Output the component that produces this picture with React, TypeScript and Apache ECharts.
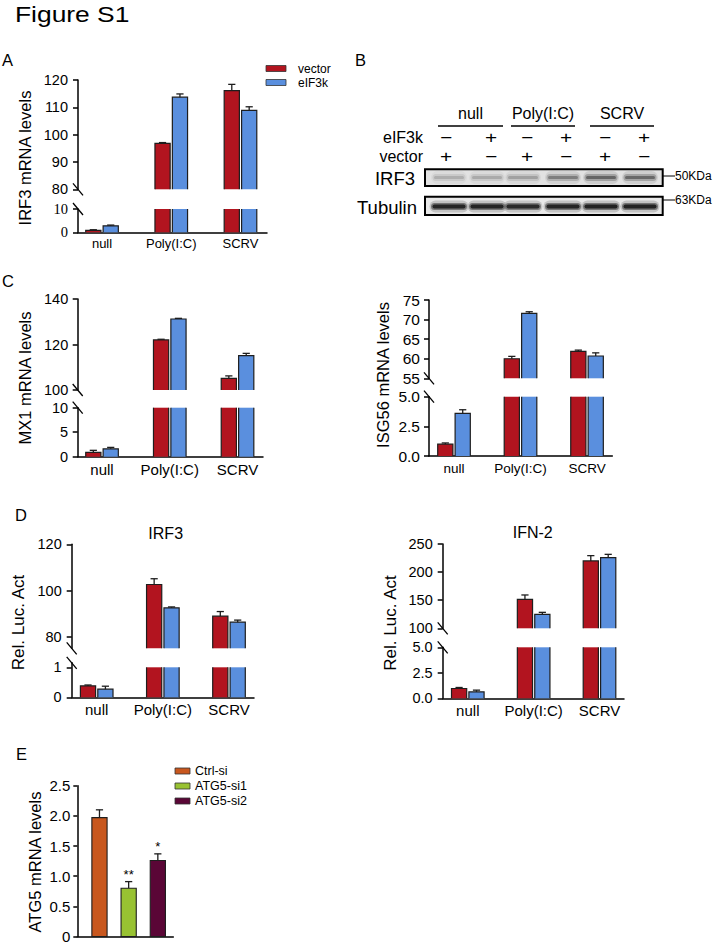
import React, { useEffect, useRef } from 'react';
import * as echarts from 'echarts';

// ---------------- data ----------------
const categories = ['null', 'Poly(I:C)', 'SCRV'];
const groupNames = ['vector', 'eIF3k'];

// A: IRF3 mRNA levels
const irf3mrnaVector = [0.8, 96.8, 116.1];
const irf3mrnaVectorErr = [0.3, 0.3, 2.3];
const irf3mrnaEif3k = [2.8, 113.7, 108.9];
const irf3mrnaEif3kErr = [0.3, 1.2, 1.3];

// C: MX1 mRNA levels
const mx1Vector = [0.9, 122.0, 105.1];
const mx1VectorErr = [0.4, 0.3, 1.1];
const mx1Eif3k = [1.6, 131.2, 115.1];
const mx1Eif3kErr = [0.3, 0.3, 1.0];

// C: ISG56 mRNA levels
const isg56Vector = [1.0, 60.0, 61.9];
const isg56VectorErr = [0.1, 0.6, 0.3];
const isg56Eif3k = [3.6, 71.6, 60.7];
const isg56Eif3kErr = [0.3, 0.4, 0.8];

// D: IRF3 Rel. Luc. Act
const lucIrf3Vector = [0.38, 102.6, 88.9];
const lucIrf3VectorErr = [0.03, 2.5, 2.0];
const lucIrf3Eif3k = [0.27, 92.5, 86.3];
const lucIrf3Eif3kErr = [0.1, 0.4, 0.9];

// D: IFN-2 Rel. Luc. Act
const lucIfnVector = [0.96, 151.6, 219.8];
const lucIfnVectorErr = [0.1, 7.7, 9.5];
const lucIfnEif3k = [0.63, 124.9, 225.6];
const lucIfnEif3kErr = [0.17, 3.5, 6.0];

// E: ATG5 mRNA levels
const atg5Groups = ['Ctrl-si', 'ATG5-si1', 'ATG5-si2'];
const atg5Values = [1.97, 0.8, 1.26];
const atg5Errs = [0.13, 0.11, 0.11];
const atg5Marks = ['', '**', '*'];

// tick values
const irf3UpperTicks = [80, 90, 100, 110, 120];
const irf3LowerTicks = [0, 10];
const mx1UpperTicks = [100, 120, 140];
const mx1LowerTicks = [0, 5, 10];
const isg56UpperTicks = [55, 60, 65, 70, 75];
const isg56LowerTicks = [0, 2.5, 5];
const lucIrf3UpperTicks = [80, 100, 120];
const lucIrf3LowerTicks = [0, 1];
const lucIfnUpperTicks = [100, 150, 200, 250];
const lucIfnLowerTicks = [0, 2.5, 5];
const atg5Ticks = [0, 0.5, 1, 1.5, 2, 2.5];

// B: western blot
const blotGroups = ['null', 'Poly(I:C)', 'SCRV'];
const blotEif3k = ['−', '+', '−', '+', '−', '+'];
const blotVector = ['+', '−', '+', '−', '+', '−'];
const irf3BandIntensity = [0.3, 0.32, 0.38, 0.62, 0.82, 0.8];
const tubulinBandIntensity = [0.95, 0.95, 0.9, 0.95, 0.97, 0.97];
const blotMarkers = ['50KDa', '63KDa'];

// ---------------- styles ----------------
const FONT = '"Liberation Sans", Arial, Helvetica, sans-serif';
const SERIF = '"Liberation Serif", "Times New Roman", serif';
const RED = '#B2141F';
const BLUE = '#5A8FDE';
const EDGE = '#1e1e1e';
const E_COLORS = ['#C8571E', '#98C232', '#5A0636'];

type Seg = {
  top: number; bottom: number; min: number; max: number; ticks: number[];
  clip?: number; fmt?: (v: number) => string; family?: string;
};
type Bars = { values: number[]; errs: number[]; color: string; offset: number };
type Panel = {
  left: number; right: number; xMin: number; xMax: number;
  upper: Seg; lower: Seg; bars: Bars[];
  tickSize: number; tickMargin: number; xLabelSize: number; xLabelMargin: number;
};

const HW = 7.6; // bar half width (px)
const CAP = 3.6; // error cap half width

function txt(text: string, x: number, y: number, size: number, opts: any = {}) {
  const align = opts.align || 'left';
  const va = opts.va || 'middle';
  return {
    type: 'text', x, y, rotation: opts.rotation || 0, scaleX: opts.scaleX || 1, silent: true,
    style: {
      text, fontSize: size, fontFamily: opts.family || FONT, fill: opts.fill || '#000',
      align, verticalAlign: va, textAlign: align, textVerticalAlign: va,
    },
  };
}

function yAxisOf(gridIndex: number, s: Seg, p: Panel) {
  return {
    type: 'value', gridIndex, min: s.min, max: s.max,
    axisLine: { show: true, onZero: false, lineStyle: { color: '#000', width: 1.5 } },
    axisTick: { show: true, length: 5, customValues: s.ticks, lineStyle: { color: '#000', width: 1.5 } },
    axisLabel: {
      customValues: s.ticks, fontSize: p.tickSize, fontFamily: s.family || FONT, color: '#000',
      margin: p.tickMargin, formatter: (v: number) => (s.fmt ? s.fmt(v) : String(v)),
    },
    splitLine: { show: false },
  };
}

function barRender(b: Bars, seg: Seg, isUpper: boolean) {
  return (params: any, api: any) => {
    const i = api.value(0);
    const v = api.value(1);
    const e = api.value(2);
    const children: any[] = [];
    const base = api.coord([i, seg.min]);
    const cx = base[0] + b.offset;
    const x0 = cx - HW;
    const x1 = cx + HW;
    let showErr = false;
    let topY = 0;
    if (isUpper) {
      if (v <= seg.min) return { type: 'group', children: [] };
      topY = api.coord([i, v])[1];
      children.push({ type: 'rect', shape: { x: x0, y: topY, width: 2 * HW, height: base[1] - topY }, style: { fill: b.color } });
      children.push({
        type: 'polyline',
        shape: { points: [[x0, base[1]], [x0, topY], [x1, topY], [x1, base[1]]] },
        style: { stroke: EDGE, lineWidth: 1.2, fill: null },
      });
      showErr = true;
    } else {
      const clip = seg.clip !== undefined ? seg.clip : seg.max;
      const tv = Math.min(v, clip);
      topY = api.coord([i, tv])[1];
      children.push({ type: 'rect', shape: { x: x0, y: topY, width: 2 * HW, height: base[1] - topY }, style: { fill: b.color } });
      if (v <= clip) {
        children.push({
          type: 'polyline',
          shape: { points: [[x0, base[1]], [x0, topY], [x1, topY], [x1, base[1]]] },
          style: { stroke: EDGE, lineWidth: 1.2, fill: null },
        });
        showErr = true;
      } else {
        children.push({ type: 'line', shape: { x1: x0, y1: base[1], x2: x0, y2: topY }, style: { stroke: EDGE, lineWidth: 1.2 } });
        children.push({ type: 'line', shape: { x1: x1, y1: base[1], x2: x1, y2: topY }, style: { stroke: EDGE, lineWidth: 1.2 } });
      }
    }
    if (showErr && e > 0) {
      const ey = api.coord([i, v + e])[1];
      children.push({ type: 'line', shape: { x1: cx, y1: topY, x2: cx, y2: ey }, style: { stroke: EDGE, lineWidth: 1.3 } });
      children.push({ type: 'line', shape: { x1: cx - CAP, y1: ey, x2: cx + CAP, y2: ey }, style: { stroke: EDGE, lineWidth: 1.3 } });
    }
    return { type: 'group', children };
  };
}

function slashRender() {
  return (params: any, api: any) => {
    const p = api.coord([api.value(0), api.value(1)]);
    return {
      type: 'line',
      shape: { x1: p[0] - 5, y1: p[1] - 6, x2: p[0] + 5, y2: p[1] + 6 },
      style: { stroke: '#000', lineWidth: 1.3 },
    };
  };
}

function addPanel(opt: any, p: Panel) {
  const gU = opt.grid.length;
  const gL = gU + 1;
  const w = p.right - p.left;
  opt.grid.push({ left: p.left, top: p.upper.top, width: w, height: p.upper.bottom - p.upper.top });
  opt.grid.push({ left: p.left, top: p.lower.top, width: w, height: p.lower.bottom - p.lower.top });
  const xU = opt.xAxis.length;
  opt.xAxis.push({ type: 'value', gridIndex: gU, min: p.xMin, max: p.xMax, show: false });
  opt.xAxis.push({
    type: 'value', gridIndex: gL, min: p.xMin, max: p.xMax,
    axisLine: { show: true, onZero: false, lineStyle: { color: '#000', width: 1.5 } },
    axisTick: { show: false }, splitLine: { show: false },
    axisLabel: {
      customValues: categories.map((_, i) => i), fontSize: p.xLabelSize, fontFamily: FONT, color: '#000',
      margin: p.xLabelMargin, formatter: (v: number) => categories[Math.round(v)] || '',
    },
  });
  const yU = opt.yAxis.length;
  opt.yAxis.push(yAxisOf(gU, p.upper, p));
  opt.yAxis.push(yAxisOf(gL, p.lower, p));
  p.bars.forEach((b) => {
    const data = b.values.map((v, i) => [i, v, b.errs[i]]);
    opt.series.push({ type: 'custom', xAxisIndex: xU, yAxisIndex: yU, data, renderItem: barRender(b, p.upper, true), silent: true });
    opt.series.push({ type: 'custom', xAxisIndex: xU + 1, yAxisIndex: yU + 1, data, renderItem: barRender(b, p.lower, false), silent: true });
  });
  opt.series.push({ type: 'custom', xAxisIndex: xU, yAxisIndex: yU, data: [[p.xMin, p.upper.min]], renderItem: slashRender(), silent: true, clip: false });
  opt.series.push({ type: 'custom', xAxisIndex: xU + 1, yAxisIndex: yU + 1, data: [[p.xMin, p.lower.max]], renderItem: slashRender(), silent: true, clip: false });
}

function blotBand(cx: number, cy: number, w: number, k: number, heights: number[], ops: number[]) {
  return heights.map((h, j) => ({
    type: 'rect', silent: true,
    shape: { x: cx - w / 2 + j * 1.5, y: cy - h / 2, width: w - j * 3, height: h, r: h / 2 },
    style: { fill: '#111', opacity: Math.min(1, ops[j] * k) },
  }));
}

function buildOption() {
  const opt: any = { animation: false, grid: [], xAxis: [], yAxis: [], series: [], graphic: [] };
  const off = 8.7;
  const f1 = (v: number) => v.toFixed(1);

  // Panel A
  addPanel(opt, {
    left: 78, right: 267, xMin: -0.347, xMax: 2.383,
    upper: { top: 80, bottom: 189.3, min: 80, max: 120, ticks: irf3UpperTicks },
    lower: { top: 209, bottom: 232.3, min: 0, max: 10, ticks: irf3LowerTicks, clip: 10, family: SERIF },
    bars: [
      { values: irf3mrnaVector, errs: irf3mrnaVectorErr, color: RED, offset: -off },
      { values: irf3mrnaEif3k, errs: irf3mrnaEif3kErr, color: BLUE, offset: off },
    ],
    tickSize: 14.5, tickMargin: 10, xLabelSize: 13, xLabelMargin: 5,
  });
  // Panel C left
  addPanel(opt, {
    left: 77.7, right: 263, xMin: -0.359, xMax: 2.376,
    upper: { top: 299, bottom: 390, min: 100, max: 140, ticks: mx1UpperTicks },
    lower: { top: 407.7, bottom: 456.7, min: 0, max: 10, ticks: mx1LowerTicks, clip: 10 },
    bars: [
      { values: mx1Vector, errs: mx1VectorErr, color: RED, offset: -off },
      { values: mx1Eif3k, errs: mx1Eif3kErr, color: BLUE, offset: off },
    ],
    tickSize: 14.5, tickMargin: 9.5, xLabelSize: 15, xLabelMargin: 5,
  });
  // Panel C right
  addPanel(opt, {
    left: 429, right: 612.3, xMin: -0.376, xMax: 2.38,
    upper: { top: 300, bottom: 378.3, min: 55, max: 75, ticks: isg56UpperTicks },
    lower: { top: 396.7, bottom: 456, min: 0, max: 5, ticks: isg56LowerTicks, clip: 5, fmt: f1 },
    bars: [
      { values: isg56Vector, errs: isg56VectorErr, color: RED, offset: -off },
      { values: isg56Eif3k, errs: isg56Eif3kErr, color: BLUE, offset: off },
    ],
    tickSize: 15.5, tickMargin: 9, xLabelSize: 13.5, xLabelMargin: 5,
  });
  // Panel D left
  addPanel(opt, {
    left: 71.7, right: 254, xMin: -0.378, xMax: 2.378,
    upper: { top: 544.3, bottom: 648.3, min: 75, max: 120, ticks: lucIrf3UpperTicks },
    lower: { top: 662.8, bottom: 697.3, min: 0, max: 1.15, ticks: lucIrf3LowerTicks, clip: 1 },
    bars: [
      { values: lucIrf3Vector, errs: lucIrf3VectorErr, color: RED, offset: -off },
      { values: lucIrf3Eif3k, errs: lucIrf3Eif3kErr, color: BLUE, offset: off },
    ],
    tickSize: 14.5, tickMargin: 10, xLabelSize: 15, xLabelMargin: 5,
  });
  // Panel D right
  addPanel(opt, {
    left: 442.7, right: 624, xMin: -0.381, xMax: 2.372,
    upper: { top: 544, bottom: 628.3, min: 100, max: 250, ticks: lucIfnUpperTicks },
    lower: { top: 647.3, bottom: 698.3, min: 0, max: 5, ticks: lucIfnLowerTicks, clip: 5, fmt: f1 },
    bars: [
      { values: lucIfnVector, errs: lucIfnVectorErr, color: RED, offset: -off },
      { values: lucIfnEif3k, errs: lucIfnEif3kErr, color: BLUE, offset: off },
    ],
    tickSize: 14.5, tickMargin: 10, xLabelSize: 15, xLabelMargin: 5,
  });

  // Panel E
  const gE = opt.grid.length;
  opt.grid.push({ left: 77.3, top: 785.7, width: 96, height: 152.6 });
  const xE = opt.xAxis.length;
  opt.xAxis.push({
    type: 'value', gridIndex: gE, min: -0.76, max: 2.53,
    axisLine: { show: true, onZero: false, lineStyle: { color: '#000', width: 1.5 } },
    axisTick: { show: false }, axisLabel: { show: false }, splitLine: { show: false },
  });
  const yE = opt.yAxis.length;
  opt.yAxis.push({
    type: 'value', gridIndex: gE, min: 0, max: 2.5,
    axisLine: { show: true, onZero: false, lineStyle: { color: '#000', width: 1.5 } },
    axisTick: { show: true, length: 4, customValues: atg5Ticks, lineStyle: { color: '#000', width: 1.5 } },
    axisLabel: {
      customValues: atg5Ticks, fontSize: 15, fontFamily: FONT, color: '#000', margin: 7,
      formatter: (v: number) => (v === 0 ? '0' : v.toFixed(1)),
    },
    splitLine: { show: false },
  });
  opt.series.push({
    type: 'custom', xAxisIndex: xE, yAxisIndex: yE, silent: true,
    data: atg5Values.map((v, i) => [i, v, atg5Errs[i]]),
    renderItem: (params: any, api: any) => {
      const i = api.value(0);
      const v = api.value(1);
      const e = api.value(2);
      const base = api.coord([i, 0]);
      const top = api.coord([i, v]);
      const et = api.coord([i, v + e]);
      const cx = base[0];
      const children: any[] = [
        { type: 'line', shape: { x1: cx, y1: top[1], x2: cx, y2: et[1] }, style: { stroke: EDGE, lineWidth: 1.3 } },
        { type: 'line', shape: { x1: cx - CAP, y1: et[1], x2: cx + CAP, y2: et[1] }, style: { stroke: EDGE, lineWidth: 1.3 } },
        {
          type: 'rect', shape: { x: cx - HW, y: top[1], width: 2 * HW, height: base[1] - top[1] },
          style: { fill: E_COLORS[i], stroke: EDGE, lineWidth: 1.1 },
        },
      ];
      const mark = atg5Marks[i];
      if (mark) {
        children.push({
          type: 'text', x: cx, y: et[1] - 1,
          style: { text: mark, fontSize: 13, fontFamily: FONT, fill: '#000', align: 'center', verticalAlign: 'bottom', textAlign: 'center', textVerticalAlign: 'bottom' },
        });
      }
      return { type: 'group', children };
    },
  });

  // ---------- graphics ----------
  const g: any[] = opt.graphic;
  g.push(txt('Figure S1', 15, 14.5, 22, { scaleX: 1.2 }));
  g.push(txt('A', 2, 59.5, 16.5));
  g.push(txt('B', 355, 59.5, 16.5));
  g.push(txt('C', 2, 280.5, 16.5));
  g.push(txt('D', 15, 515, 16.5));
  g.push(txt('E', 16, 754, 16.5));

  // y-axis names
  g.push(txt('IRF3 mRNA levels', 25, 158, 16.5, { align: 'center', rotation: Math.PI / 2 }));
  g.push(txt('MX1 mRNA levels', 25, 378, 16.5, { align: 'center', rotation: Math.PI / 2 }));
  g.push(txt('ISG56 mRNA levels', 383, 375, 16.5, { align: 'center', rotation: Math.PI / 2 }));
  g.push(txt('Rel. Luc. Act', 18.5, 622.5, 17, { align: 'center', rotation: Math.PI / 2 }));
  g.push(txt('Rel. Luc. Act', 390, 623, 17, { align: 'center', rotation: Math.PI / 2 }));
  g.push(txt('ATG5 mRNA levels', 35, 862, 16.5, { align: 'center', rotation: Math.PI / 2 }));

  // D titles
  g.push(txt('IRF3', 165.7, 533, 16, { align: 'center' }));
  g.push(txt('IFN-2', 532.7, 532, 16, { align: 'center' }));

  // Legend A
  [RED, BLUE].forEach((c, i) => {
    const y = 68.5 + i * 14;
    g.push({ type: 'rect', silent: true, shape: { x: 266, y: y - 3, width: 20, height: 6 }, style: { fill: c, stroke: '#333', lineWidth: 0.8 } });
    g.push(txt(groupNames[i], 298, y, 12));
  });
  // Legend E
  E_COLORS.forEach((c, i) => {
    const y = 771 + i * 15;
    g.push({ type: 'rect', silent: true, shape: { x: 175, y: y - 3, width: 15, height: 6 }, style: { fill: c, stroke: '#333', lineWidth: 0.8 } });
    g.push(txt(atg5Groups[i], 195, y, 12.5));
  });

  // ---------- Western blot (B) ----------
  const laneX = [446, 491, 527, 566, 605, 644];
  const bandX = [449, 487, 523, 563, 601, 640];
  const headerSpans = [[438, 503], [511, 575], [590, 654]];
  blotGroups.forEach((name, i) => {
    const [a, b] = headerSpans[i];
    g.push(txt(name, (a + b) / 2, 113, 16, { align: 'center' }));
    g.push({ type: 'line', silent: true, shape: { x1: a, y1: 126, x2: b, y2: 126 }, style: { stroke: '#000', lineWidth: 1.3 } });
  });
  g.push(txt('eIF3k', 423, 137.5, 16, { align: 'right' }));
  g.push(txt('vector', 423, 156, 16, { align: 'right' }));
  laneX.forEach((x, i) => {
    g.push(txt(blotEif3k[i], x, 137, 16, { align: 'center', scaleX: 1.3 }));
    g.push(txt(blotVector[i], x, 156.5, 16, { align: 'center', scaleX: 1.3 }));
  });
  // IRF3 blot
  g.push({ type: 'rect', silent: true, shape: { x: 425, y: 169.3, width: 237.7, height: 16.7 }, style: { fill: '#e2e2e2' } });
  bandX.forEach((x, i) => {
    blotBand(x, 177.5, 36, irf3BandIntensity[i], [13, 7, 3], [0.12, 0.28, 0.5]).forEach((e) => g.push(e));
  });
  g.push({ type: 'rect', silent: true, shape: { x: 425, y: 169.3, width: 237.7, height: 16.7 }, style: { fill: 'none', stroke: '#000', lineWidth: 2 } });
  g.push(txt('IRF3', 415, 178, 18.5, { align: 'right' }));
  // Tubulin blot
  g.push({ type: 'rect', silent: true, shape: { x: 425, y: 196.7, width: 237.7, height: 18.3 }, style: { fill: '#e8e8e8' } });
  bandX.forEach((x, i) => {
    blotBand(x, 206.5, 39, tubulinBandIntensity[i], [12, 7, 4], [0.18, 0.45, 0.85]).forEach((e) => g.push(e));
  });
  g.push({ type: 'rect', silent: true, shape: { x: 425, y: 196.7, width: 237.7, height: 18.3 }, style: { fill: 'none', stroke: '#000', lineWidth: 2 } });
  g.push(txt('Tubulin', 417, 207.5, 18.5, { align: 'right' }));
  // markers
  [176, 200].forEach((y, i) => {
    g.push({ type: 'line', silent: true, shape: { x1: 662.7, y1: y, x2: 675, y2: y }, style: { stroke: '#000', lineWidth: 1 } });
    g.push(txt(blotMarkers[i], 675, y, 12));
  });

  return opt;
}

export default function App() {
  const ref = useRef<HTMLDivElement>(null);
  useEffect(() => {
    document.body.style.margin = '0';
    const chart = echarts.init(ref.current as HTMLDivElement, null, { renderer: 'svg', width: 714, height: 944 });
    chart.setOption(buildOption());
    return () => chart.dispose();
  }, []);
  return <div ref={ref} style={{ width: 714, height: 944, background: '#fff' }} />;
}
